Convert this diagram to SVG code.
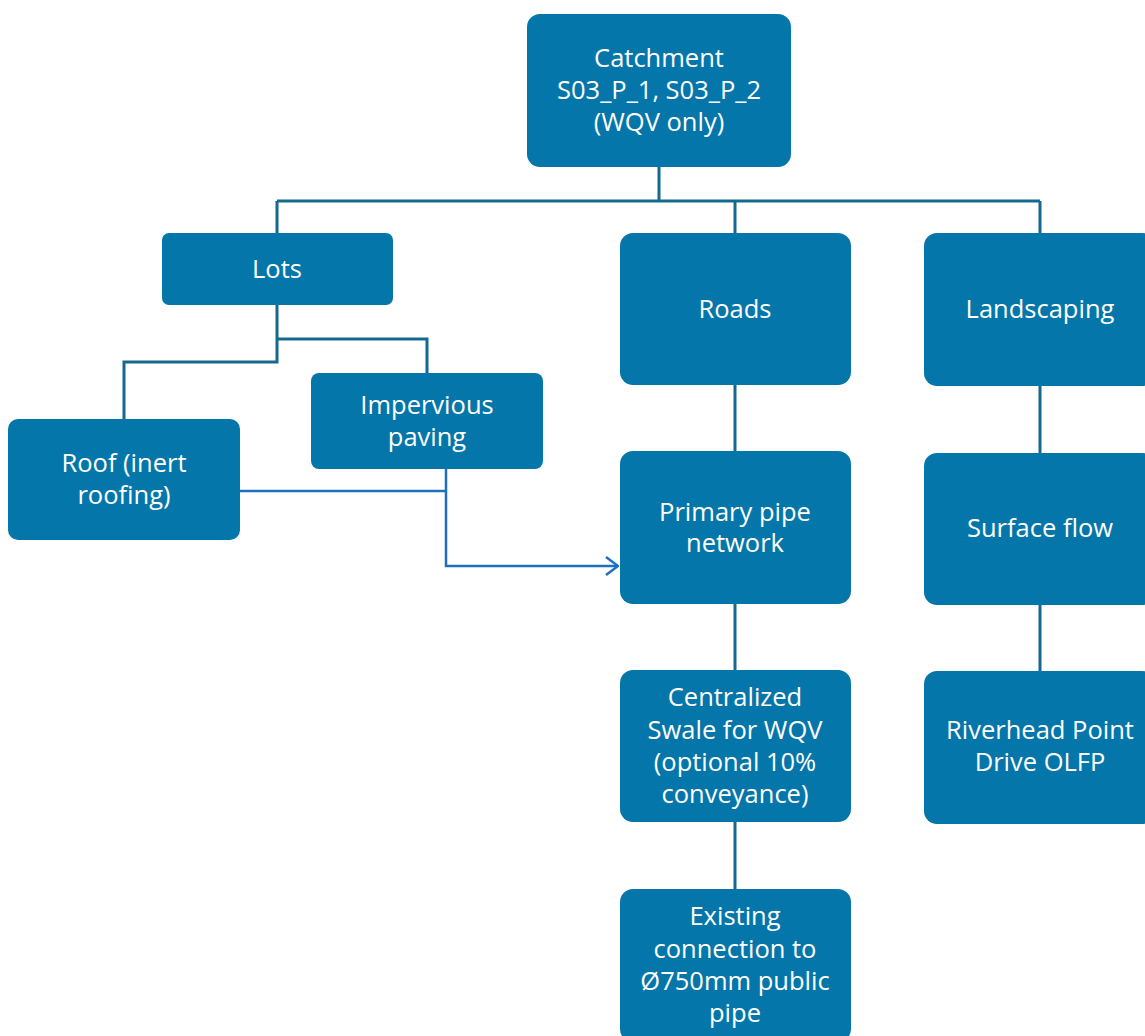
<svg xmlns="http://www.w3.org/2000/svg" width="1145" height="1036" viewBox="0 0 1145 1036">
<style>
.n{fill:#0476A9;}
.t{fill:#fff;font-family:"Open Sans","Noto Sans",sans-serif;font-size:25.5px;text-anchor:middle;}
.c{fill:none;stroke:#15698E;stroke-width:3;}
.a{fill:none;stroke:#1F6FBF;stroke-width:2.5;}
</style>
<defs>
<marker id="arr" viewBox="0 0 14 20" refX="13" refY="10" markerWidth="14" markerHeight="20" markerUnits="userSpaceOnUse" orient="auto">
<path d="M1,1 L13,10 L1,19" fill="none" stroke="#1F6FBF" stroke-width="2.5"/>
</marker>
</defs>
<rect width="1145" height="1036" fill="#fff"/>
<g id="connectors">
<path class="c" d="M659,167 V201 M277,201 H1040 M277,201 V233 M735,201 V233 M1040,201 V233"/>
<path class="c" d="M277,305 V362 H124 V419 M277,339 H427 V373"/>
<path class="c" d="M735,385 V451 M735,604 V670 M735,822 V889"/>
<path class="c" d="M1040,386 V453 M1040,605 V671"/>
<path class="a" d="M240,491 H446 M446,469 V566 H618" marker-end="url(#arr)"/>
</g>
<g id="catchment"><rect class="n" x="527" y="14" width="264" height="153" rx="13"/>
<text class="t" x="659" y="67">Catchment</text><text class="t" x="659" y="99">S03_P_1, S03_P_2</text><text class="t" x="659" y="131">(WQV only)</text></g>
<g id="lots"><rect class="n" x="162" y="233" width="231" height="72" rx="7"/>
<text class="t" x="277" y="278">Lots</text></g>
<g id="roads"><rect class="n" x="620" y="233" width="231" height="152" rx="13"/>
<text class="t" x="735" y="318">Roads</text></g>
<g id="landscaping"><rect class="n" x="924" y="233" width="231" height="153" rx="13"/>
<text class="t" x="1040" y="318">Landscaping</text></g>
<g id="impervious"><rect class="n" x="311" y="373" width="232" height="96" rx="8"/>
<text class="t" x="427" y="414">Impervious</text><text class="t" x="427" y="446">paving</text></g>
<g id="roof"><rect class="n" x="8" y="419" width="232" height="121" rx="10"/>
<text class="t" x="124" y="472">Roof (inert</text><text class="t" x="124" y="504">roofing)</text></g>
<g id="primary"><rect class="n" x="620" y="451" width="231" height="153" rx="13"/>
<text class="t" x="735" y="521">Primary pipe</text><text class="t" x="735" y="552">network</text></g>
<g id="surface"><rect class="n" x="924" y="453" width="231" height="152" rx="13"/>
<text class="t" x="1040" y="537">Surface flow</text></g>
<g id="swale"><rect class="n" x="620" y="670" width="231" height="152" rx="13"/>
<text class="t" x="735" y="706">Centralized</text><text class="t" x="735" y="739">Swale for WQV</text><text class="t" x="735" y="771">(optional 10%</text><text class="t" x="735" y="803">conveyance)</text></g>
<g id="riverhead"><rect class="n" x="924" y="671" width="231" height="153" rx="13"/>
<text class="t" x="1040" y="739">Riverhead Point</text><text class="t" x="1040" y="771">Drive OLFP</text></g>
<g id="existing"><rect class="n" x="620" y="889" width="231" height="153" rx="13"/>
<text class="t" x="735" y="925">Existing</text><text class="t" x="735" y="958">connection to</text><text class="t" x="735" y="990">Ø750mm public</text><text class="t" x="735" y="1022">pipe</text></g>
</svg>
